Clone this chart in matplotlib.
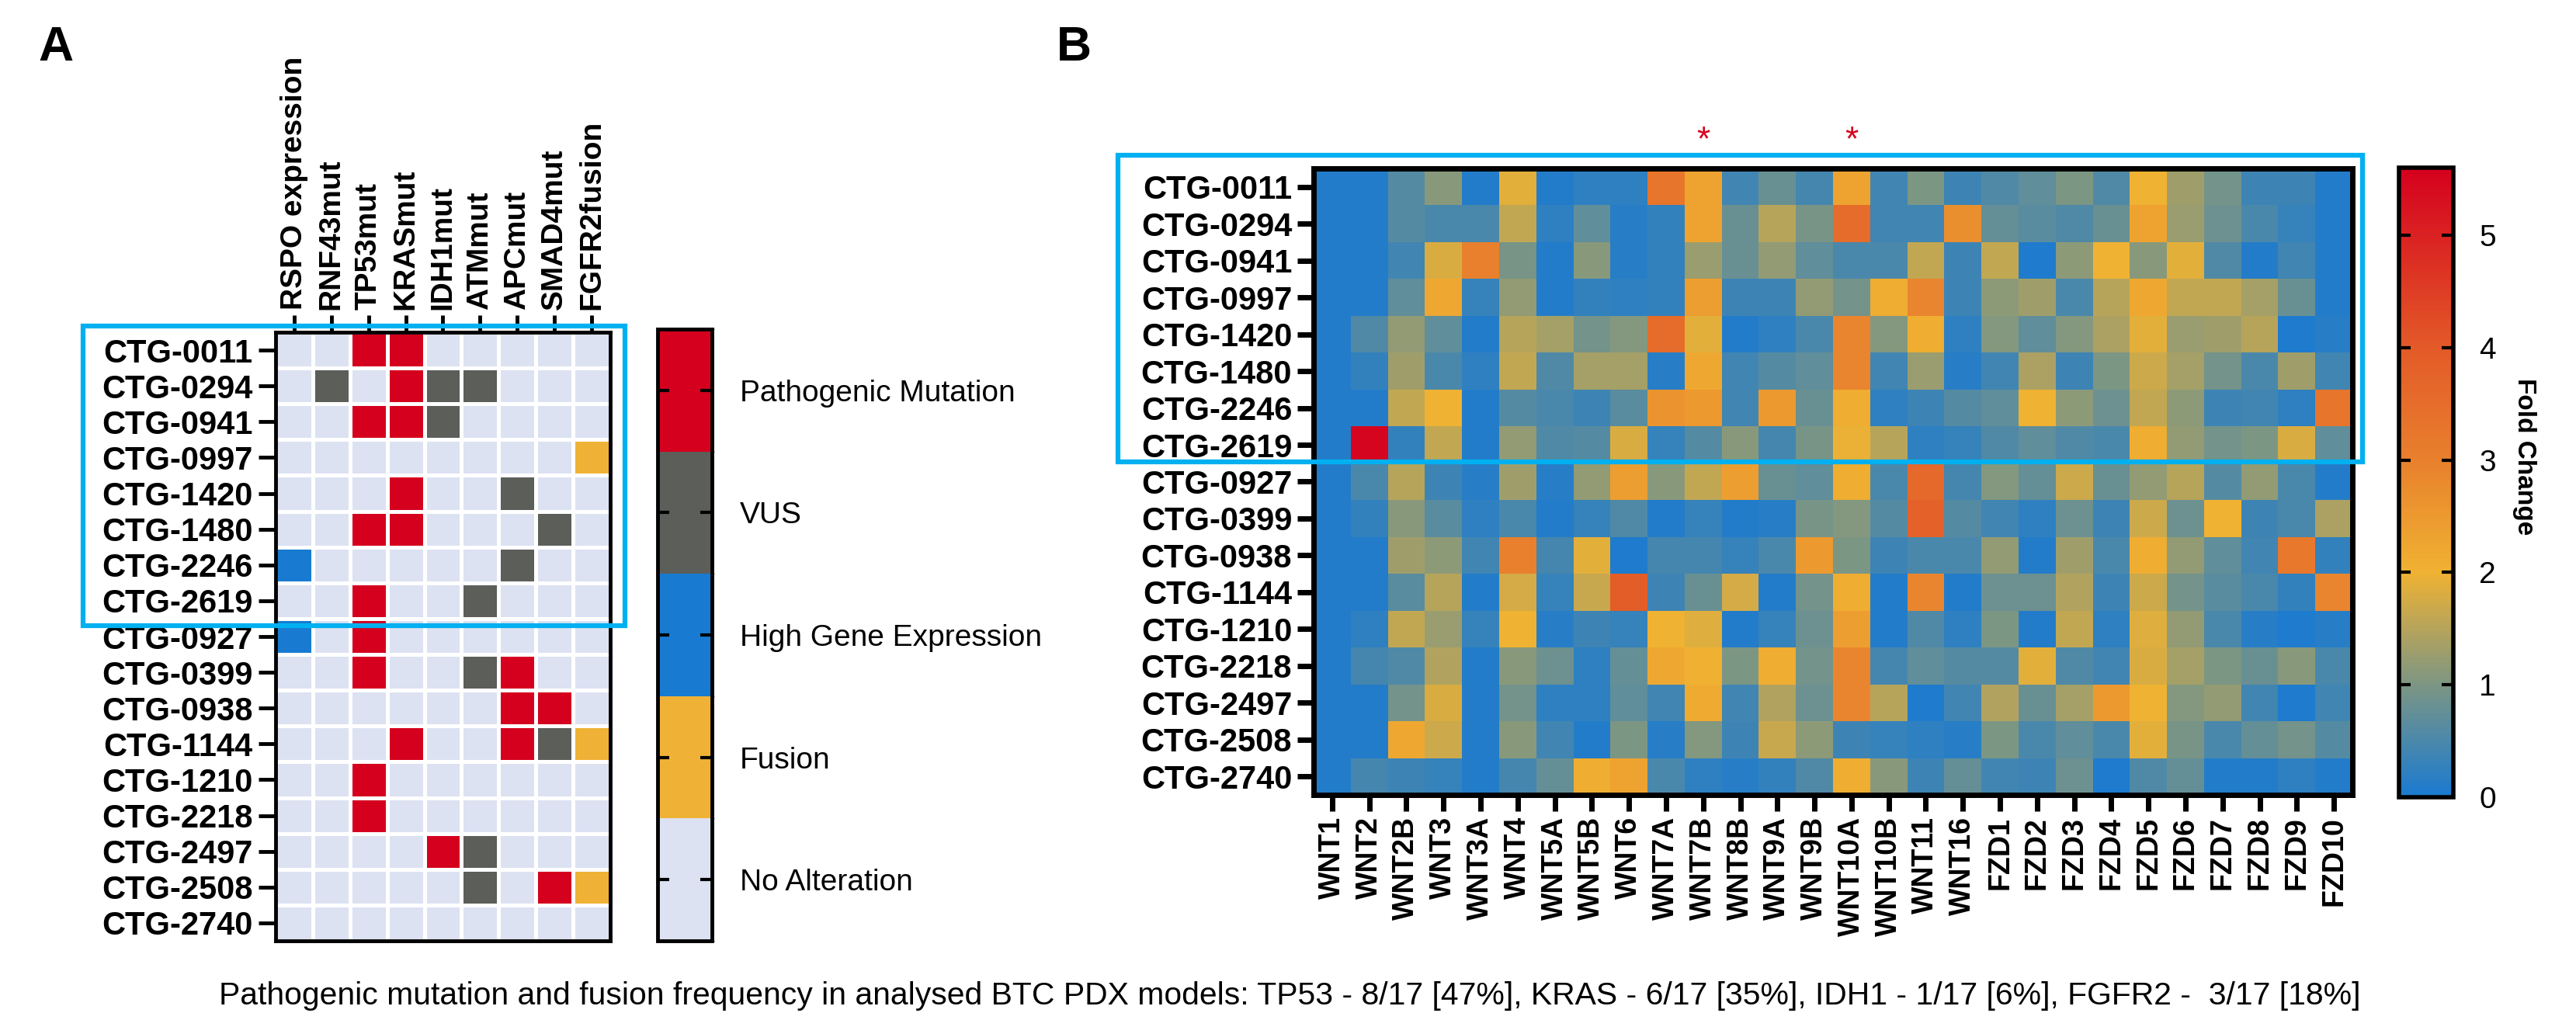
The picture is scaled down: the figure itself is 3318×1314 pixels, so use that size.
import numpy as np
import matplotlib
matplotlib.use("Agg")
import matplotlib.pyplot as plt
from matplotlib.colors import ListedColormap, BoundaryNorm, LinearSegmentedColormap
from matplotlib.cm import ScalarMappable
from matplotlib.patches import Rectangle

plt.rcParams['font.family'] = ['Liberation Sans', 'DejaVu Sans']

# ---------------- data ----------------
models = ["CTG-0011", "CTG-0294", "CTG-0941", "CTG-0997", "CTG-1420", "CTG-1480",
          "CTG-2246", "CTG-2619", "CTG-0927", "CTG-0399", "CTG-0938", "CTG-1144",
          "CTG-1210", "CTG-2218", "CTG-2497", "CTG-2508", "CTG-2740"]

alterations = ["RSPO expression", "RNF43mut", "TP53mut", "KRASmut", "IDH1mut",
               "ATMmut", "APCmut", "SMAD4mut", "FGFR2fusion"]

# P = pathogenic mutation, V = VUS, H = high gene expression, F = fusion, . = none
statusA = ["..PP.....",
           ".V.PVV...",
           "..PPV....",
           "........F",
           "...P..V..",
           "..PP...V.",
           "H.....V..",
           "..P..V...",
           "H.P......",
           "..P..VP..",
           "......PP.",
           "...P..PVF",
           "..P......",
           "..P......",
           "....PV...",
           ".....V.PF",
           "........."]

legend_labels = ["No Alteration", "Fusion", "High Gene Expression", "VUS", "Pathogenic Mutation"]
legend_codes = [".", "F", "H", "V", "P"]
legend_colors = ["#dce2f2", "#f0b236", "#187bd1", "#5c5e5a", "#d5001e"]

genes = ["WNT1", "WNT2", "WNT2B", "WNT3", "WNT3A", "WNT4", "WNT5A", "WNT5B", "WNT6",
         "WNT7A", "WNT7B", "WNT8B", "WNT9A", "WNT9B", "WNT10A", "WNT10B", "WNT11",
         "WNT16", "FZD1", "FZD2", "FZD3", "FZD4", "FZD5", "FZD6", "FZD7", "FZD8",
         "FZD9", "FZD10"]
sig_genes = ["WNT7B", "WNT10A"]

fold_change = [
    [0.1, 0.1, 0.6, 1.1, 0.1, 1.9, 0.1, 0.2, 0.2, 3.3, 2.3, 0.4, 0.8, 0.45, 2.3, 0.4, 1.0, 0.35, 0.55, 0.7, 1.0, 0.55, 2.0, 1.3, 0.9, 0.35, 0.35, 0.1],
    [0.1, 0.1, 0.6, 0.5, 0.5, 1.6, 0.2, 0.7, 0.15, 0.25, 2.3, 0.8, 1.5, 0.95, 3.5, 0.4, 0.4, 2.7, 0.75, 0.65, 0.55, 0.8, 2.3, 1.25, 0.85, 0.5, 0.3, 0.1],
    [0.1, 0.1, 0.4, 1.8, 3.0, 0.95, 0.1, 1.1, 0.15, 0.25, 1.25, 0.8, 1.2, 0.7, 0.5, 0.5, 1.6, 0.35, 1.6, 0.05, 1.15, 2.0, 1.1, 1.9, 0.55, 0.1, 0.4, 0.1],
    [0.1, 0.1, 0.7, 2.2, 0.3, 1.2, 0.1, 0.25, 0.2, 0.25, 2.4, 0.35, 0.35, 1.2, 0.9, 2.1, 2.9, 0.35, 1.15, 1.3, 0.5, 1.5, 2.2, 1.6, 1.6, 1.35, 0.8, 0.1],
    [0.1, 0.55, 1.2, 0.7, 0.1, 1.5, 1.35, 0.9, 1.05, 3.5, 1.9, 0.1, 0.2, 0.5, 2.9, 1.05, 2.1, 0.2, 1.05, 0.7, 1.05, 1.4, 1.9, 1.25, 1.3, 1.5, 0.05, 0.15],
    [0.1, 0.25, 1.3, 0.5, 0.2, 1.6, 0.55, 1.35, 1.35, 0.15, 2.2, 0.4, 0.6, 0.7, 2.9, 0.4, 1.25, 0.15, 0.4, 1.4, 0.35, 1.0, 1.7, 1.35, 0.9, 0.5, 1.3, 0.4],
    [0.1, 0.1, 1.6, 2.0, 0.1, 0.6, 0.5, 0.35, 0.65, 2.6, 2.5, 0.4, 2.5, 0.8, 2.1, 0.2, 0.35, 0.6, 0.7, 2.0, 1.15, 0.85, 1.6, 1.15, 0.35, 0.4, 0.2, 3.3],
    [0.1, 5.5, 0.25, 1.6, 0.1, 1.2, 0.55, 0.6, 1.8, 0.3, 0.6, 1.1, 0.45, 0.95, 1.95, 1.5, 0.2, 0.3, 0.55, 0.7, 0.55, 0.5, 2.1, 1.2, 0.9, 1.0, 1.8, 0.7],
    [0.1, 0.5, 1.5, 0.35, 0.15, 1.3, 0.15, 1.2, 2.4, 1.1, 1.6, 2.4, 0.8, 0.7, 2.1, 0.5, 3.6, 0.45, 1.05, 0.75, 1.7, 0.8, 1.2, 1.5, 0.6, 1.2, 0.5, 0.1],
    [0.1, 0.25, 1.1, 0.65, 0.2, 0.5, 0.1, 0.3, 0.55, 0.1, 0.3, 0.1, 0.15, 0.95, 1.05, 0.6, 3.8, 0.6, 0.4, 0.2, 0.85, 0.35, 1.7, 0.85, 2.0, 0.35, 0.5, 1.4],
    [0.1, 0.1, 1.3, 1.15, 0.4, 3.0, 0.45, 1.9, 0.05, 0.45, 0.45, 0.3, 0.5, 2.5, 1.0, 0.35, 0.5, 0.5, 1.2, 0.1, 1.3, 0.5, 2.1, 1.2, 0.7, 0.4, 3.2, 0.25],
    [0.1, 0.1, 0.65, 1.5, 0.1, 1.75, 0.3, 1.65, 3.9, 0.35, 0.8, 1.75, 0.1, 0.9, 2.1, 0.1, 2.9, 0.1, 0.85, 0.85, 1.45, 0.35, 1.7, 0.9, 0.65, 0.5, 0.25, 2.9],
    [0.1, 0.2, 1.6, 1.25, 0.3, 2.0, 0.15, 0.35, 0.3, 2.0, 1.85, 0.1, 0.3, 0.85, 2.4, 0.1, 0.55, 0.2, 1.0, 0.1, 1.6, 0.2, 1.85, 1.2, 0.5, 0.15, 0.05, 0.15],
    [0.1, 0.45, 0.55, 1.45, 0.1, 1.1, 0.85, 0.2, 0.75, 2.2, 2.05, 1.0, 2.1, 0.9, 2.9, 0.45, 0.7, 0.6, 0.6, 1.9, 0.55, 0.4, 1.8, 1.35, 1.0, 0.8, 1.1, 0.5],
    [0.1, 0.1, 0.9, 1.8, 0.1, 0.9, 0.2, 0.2, 0.7, 0.4, 2.15, 0.4, 1.45, 0.85, 2.9, 1.5, 0.05, 0.4, 1.45, 0.8, 1.35, 2.5, 2.0, 1.05, 1.2, 0.4, 0.05, 0.4],
    [0.1, 0.1, 2.2, 1.7, 0.1, 1.1, 0.4, 0.1, 1.0, 0.15, 1.05, 0.35, 1.65, 1.15, 0.35, 0.3, 0.2, 0.15, 1.0, 0.5, 0.7, 0.5, 1.9, 0.95, 0.5, 0.75, 0.9, 0.6],
    [0.1, 0.45, 0.35, 0.3, 0.1, 0.45, 0.75, 2.1, 2.3, 0.5, 0.2, 0.15, 0.25, 0.55, 2.1, 1.1, 0.35, 0.75, 0.4, 0.35, 0.85, 0.05, 0.55, 0.75, 0.1, 0.1, 0.2, 0.1],
]

fc_max = 5.6
fc_ticks = [0, 1, 2, 3, 4, 5]

caption = ("Pathogenic mutation and fusion frequency in analysed BTC PDX models: "
           "TP53 - 8/17 [47%], KRAS - 6/17 [35%], IDH1 - 1/17 [6%], FGFR2 -  3/17 [18%]")

# ---------------- figure ----------------
W, H = 3318, 1314
fig = plt.figure(figsize=(W / 100, H / 100), dpi=100)


def ax_px(x0, y0, x1, y1):
    return fig.add_axes([x0 / W, 1 - y1 / H, (x1 - x0) / W, (y1 - y0) / H])


BOX = "#00b0f0"

# ---- Panel A ----
cmapA = ListedColormap(legend_colors)
normA = BoundaryNorm(np.arange(-0.5, len(legend_codes) + 0.5, 1), cmapA.N)
code_index = {c: i for i, c in enumerate(legend_codes)}
A = np.array([[code_index[c] for c in row] for row in statusA])

axA = ax_px(355, 428, 786, 1212)
axA.pcolormesh(A, cmap=cmapA, norm=normA, edgecolors="white", linewidth=2.2)
axA.set_xlim(0, len(alterations))
axA.set_ylim(len(models), 0)
axA.xaxis.tick_top()
axA.set_xticks(np.arange(len(alterations)) + 0.5)
axA.set_xticklabels(alterations, rotation=90, fontsize=28, fontweight="bold")
axA.set_yticks(np.arange(len(models)) + 0.5)
axA.set_yticklabels(models, fontsize=30, fontweight="bold")
axA.tick_params(axis="both", length=16, width=3.5, pad=5, color="black")
for s in axA.spines.values():
    s.set_linewidth(3.5)

caxA = ax_px(847, 424, 917, 1212)
cbA = fig.colorbar(ScalarMappable(norm=normA, cmap=cmapA), cax=caxA,
                   ticks=np.arange(len(legend_labels)))
cbA.set_ticklabels(legend_labels)
caxA.tick_params(direction="in", left=True, right=True, length=11, width=3,
                 labelsize=28, pad=26)
cbA.outline.set_linewidth(3.5)

fig.add_artist(Rectangle((107 / W, 1 - 806 / H), (805 - 107) / W, (806 - 420) / H,
                         transform=fig.transFigure, fill=False, edgecolor=BOX,
                         linewidth=4.5, zorder=10))

# ---- Panel B ----
cmapB = LinearSegmentedColormap.from_list(
    "fold",
    [(0.0, "#1a7ad0"), (1.0 / fc_max, "#7d9683"), (2.0 / fc_max, "#f0b232"),
     (3.0 / fc_max, "#e8802d"), (4.0 / fc_max, "#e35a28"), (1.0, "#d5001e")])

FC = np.array(fold_change)
axB = ax_px(1692, 217, 3030, 1024)
mesh = axB.pcolormesh(FC, cmap=cmapB, vmin=0, vmax=fc_max)
axB.set_xlim(0, len(genes))
axB.set_ylim(len(models), 0)
axB.set_xticks(np.arange(len(genes)) + 0.5)
axB.set_xticklabels(genes, rotation=90, fontsize=27, fontweight="bold")
axB.set_yticks(np.arange(len(models)) + 0.5)
axB.set_yticklabels(models, fontsize=30, fontweight="bold")
axB.tick_params(axis="both", length=15, width=5, pad=5)
for s in axB.spines.values():
    s.set_linewidth(5)

for g in sig_genes:
    axB.text(genes.index(g) + 0.5, -0.75, "*", ha="center", va="center",
             color="#d5001e", fontsize=32, clip_on=False)

caxB = ax_px(3090, 216, 3160, 1027)
cbB = fig.colorbar(mesh, cax=caxB, ticks=fc_ticks)
caxB.tick_params(direction="in", left=True, right=True, length=11, width=3,
                 labelsize=28, pad=24)
cbB.outline.set_linewidth(4)
caxB.text((3252 - 3090) / 70, 1 - (588 - 216) / 811, "Fold Change", rotation=270,
          fontsize=24, fontweight="bold", ha="center", va="center",
          transform=caxB.transAxes)

fig.add_artist(Rectangle((1440 / W, 1 - 595 / H), (3043 - 1440) / W, (595 - 200) / H,
                         transform=fig.transFigure, fill=False, edgecolor=BOX,
                         linewidth=4.5, zorder=10))

# ---- panel letters and caption ----
fig.text(72 / W, 1 - 62 / H, "A", fontsize=45, fontweight="bold", ha="center", va="center")
fig.text(1383 / W, 1 - 62 / H, "B", fontsize=45, fontweight="bold", ha="center", va="center")

cap = fig.text(1661 / W, 1 - 1283 / H, caption, ha="center", va="center", fontsize=27)
fig.canvas.draw()
bb = cap.get_window_extent()
cap.set_fontsize(27 * 2760 / bb.width)

fig.savefig("out.png", dpi=100)
